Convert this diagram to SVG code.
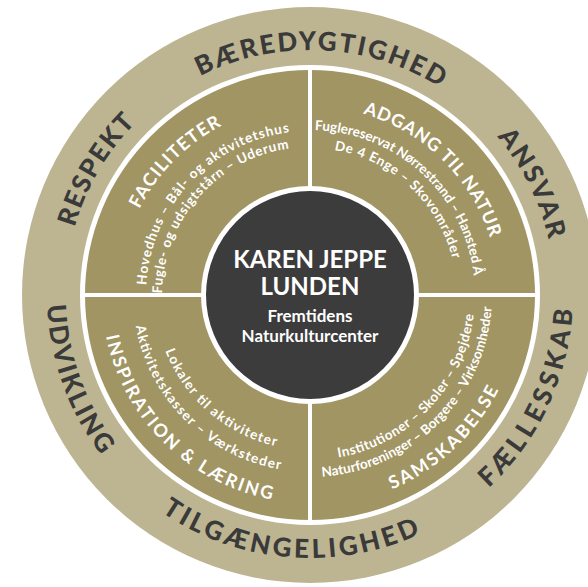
<svg xmlns="http://www.w3.org/2000/svg" width="588" height="587" viewBox="0 0 588 587">
<style>
.ring{fill:#bdb591}
.quad{fill:#a19564}
.core{fill:#3c3c3c}
.div{stroke:#fff;stroke-width:4;fill:none}
text{font-family:Lato,"Open Sans","Liberation Sans",sans-serif}
.outer{font-weight:900;font-size:26px;fill:#3a3a3a}
.cap{font-weight:700;font-size:18px;fill:#fff}
.sub{font-weight:700;font-size:13.5px;fill:#fff}
.c1{font-weight:700;font-size:24px;fill:#fff}
.c2{font-weight:700;font-size:17px;fill:#fff}
</style>
<defs>
<path id="pBae" d="M67.21,262.17 A245,245 0 0 1 554.80,285.17"/>
<path id="pAns" d="M219.41,67.36 A245,245 0 0 1 438.74,503.45"/>
<path id="pRes" d="M168.42,494.95 A245,245 0 0 1 414.70,73.50"/>
<path id="pUdv" d="M199.68,56.25 A263,263 0 0 0 377.18,549.27"/>
<path id="pTil" d="M47.00,295.92 A263,263 0 0 0 569.16,339.77"/>
<path id="pFae" d="M219.19,541.82 A263,263 0 0 0 442.29,67.70"/>
<path id="pFac" d="M164.58,418.83 A191,191 0 0 1 431.75,147.83"/>
<path id="pAdg" d="M174.73,163.00 A189,189 0 0 1 445.27,427.00"/>
<path id="pHov" d="M192.86,409.78 A164,164 0 0 1 416.73,170.48"/>
<path id="pFug" d="M207.72,401.97 A148,148 0 0 1 402.54,179.50"/>
<path id="pRsv" d="M193.33,178.33 A165,165 0 0 1 436.40,401.06"/>
<path id="pDe4" d="M206.24,190.87 A147,147 0 0 1 422.44,389.69"/>
<path id="pIns" d="M149.73,162.42 A208,208 0 0 0 444.81,453.40"/>
<path id="pLok" d="M184.29,204.33 A155,155 0 0 0 418.06,406.12"/>
<path id="pAkt" d="M174.01,181.70 A177,177 0 0 0 424.25,430.19"/>
<path id="pSam" d="M169.09,452.05 A211,211 0 0 0 476.04,164.80"/>
<path id="pInst" d="M207.29,424.13 A165,165 0 0 0 433.58,185.67"/>
<path id="pNat" d="M193.01,434.42 A182,182 0 0 0 449.42,178.01"/>
</defs>

<g id="outer-ring">
<circle class="ring" cx="310" cy="295" r="288"/>
<circle cx="310" cy="295" r="230" fill="#fff"/>
<text class="outer"><textPath href="#pBae" startOffset="50%" text-anchor="middle" textLength="251" lengthAdjust="spacing">BÆREDYGTIGHED</textPath></text>
<text class="outer"><textPath href="#pAns" startOffset="50%" text-anchor="middle" textLength="116" lengthAdjust="spacing">ANSVAR</textPath></text>
<text class="outer"><textPath href="#pRes" startOffset="50%" text-anchor="middle" textLength="122" lengthAdjust="spacing">RESPEKT</textPath></text>
<text class="outer"><textPath href="#pUdv" startOffset="50%" text-anchor="middle" textLength="162" lengthAdjust="spacing">UDVIKLING</textPath></text>
<text class="outer"><textPath href="#pTil" startOffset="50%" text-anchor="middle" textLength="272" lengthAdjust="spacing">TILGÆNGELIGHED</textPath></text>
<text class="outer"><textPath href="#pFae" startOffset="50%" text-anchor="middle" textLength="202" lengthAdjust="spacing">FÆLLESSKAB</textPath></text>
</g>

<g id="facilities">
<path class="quad" d="M310,295 L85,295 A225,225 0 0 1 310,70 Z"/>
<text class="cap"><textPath href="#pFac" startOffset="50%" text-anchor="middle" textLength="119" lengthAdjust="spacing">FACILITETER</textPath></text>
<text class="sub"><textPath href="#pHov" startOffset="50%" text-anchor="middle" textLength="227" lengthAdjust="spacing">Hovedhus – Bål- og aktivitetshus</textPath></text>
<text class="sub"><textPath href="#pFug" startOffset="50%" text-anchor="middle" textLength="210" lengthAdjust="spacing">Fugle- og udsigtstårn – Uderum</textPath></text>
</g>

<g id="access-to-nature">
<path class="quad" d="M310,295 L310,70 A225,225 0 0 1 535,295 Z"/>
<text class="cap"><textPath href="#pAdg" startOffset="50%" text-anchor="middle" textLength="185" lengthAdjust="spacing">ADGANG TIL NATUR</textPath></text>
<text class="sub"><textPath href="#pRsv" startOffset="50%" text-anchor="middle" textLength="235" lengthAdjust="spacing">Fuglereservat Nørrestrand – Hansted Å</textPath></text>
<text class="sub"><textPath href="#pDe4" startOffset="50%" text-anchor="middle" textLength="170" lengthAdjust="spacing">De 4 Enge – Skovområder</textPath></text>
</g>

<g id="inspiration-learning">
<path class="quad" d="M310,295 L310,520 A225,225 0 0 1 85,295 Z"/>
<text class="cap"><textPath href="#pIns" startOffset="50%" text-anchor="middle" textLength="247" lengthAdjust="spacing">INSPIRATION &amp; LÆRING</textPath></text>
<text class="sub"><textPath href="#pLok" startOffset="50%" text-anchor="middle" textLength="152" lengthAdjust="spacing">Lokaler til aktiviteter</textPath></text>
<text class="sub"><textPath href="#pAkt" startOffset="50%" text-anchor="middle" textLength="217" lengthAdjust="spacing">Aktivitetskasser – Værksteder</textPath></text>
</g>

<g id="co-creation">
<path class="quad" d="M310,295 L535,295 A225,225 0 0 1 310,520 Z"/>
<text class="cap"><textPath href="#pSam" startOffset="50%" text-anchor="middle" textLength="149" lengthAdjust="spacing">SAMSKABELSE</textPath></text>
<text class="sub"><textPath href="#pInst" startOffset="50%" text-anchor="middle" textLength="211" lengthAdjust="spacing">Institutioner – Skoler – Spejdere</textPath></text>
<text class="sub"><textPath href="#pNat" startOffset="50%" text-anchor="middle" textLength="262" lengthAdjust="spacing">Naturforeninger – Borgere – Virksomheder</textPath></text>
</g>

<g id="connectors">
<line class="div" x1="310" y1="65" x2="310" y2="525"/>
<line class="div" x1="80" y1="295" x2="540" y2="295"/>
</g>

<g id="center">
<circle cx="310" cy="295" r="109" fill="#fff"/>
<circle class="core" cx="310" cy="295" r="104"/>
<text class="c1" x="310" y="268" text-anchor="middle">KAREN JEPPE</text>
<text class="c1" x="310" y="295" text-anchor="middle">LUNDEN</text>
<text class="c2" x="310" y="322" text-anchor="middle">Fremtidens</text>
<text class="c2" x="310" y="342" text-anchor="middle">Naturkulturcenter</text>
</g>
</svg>
